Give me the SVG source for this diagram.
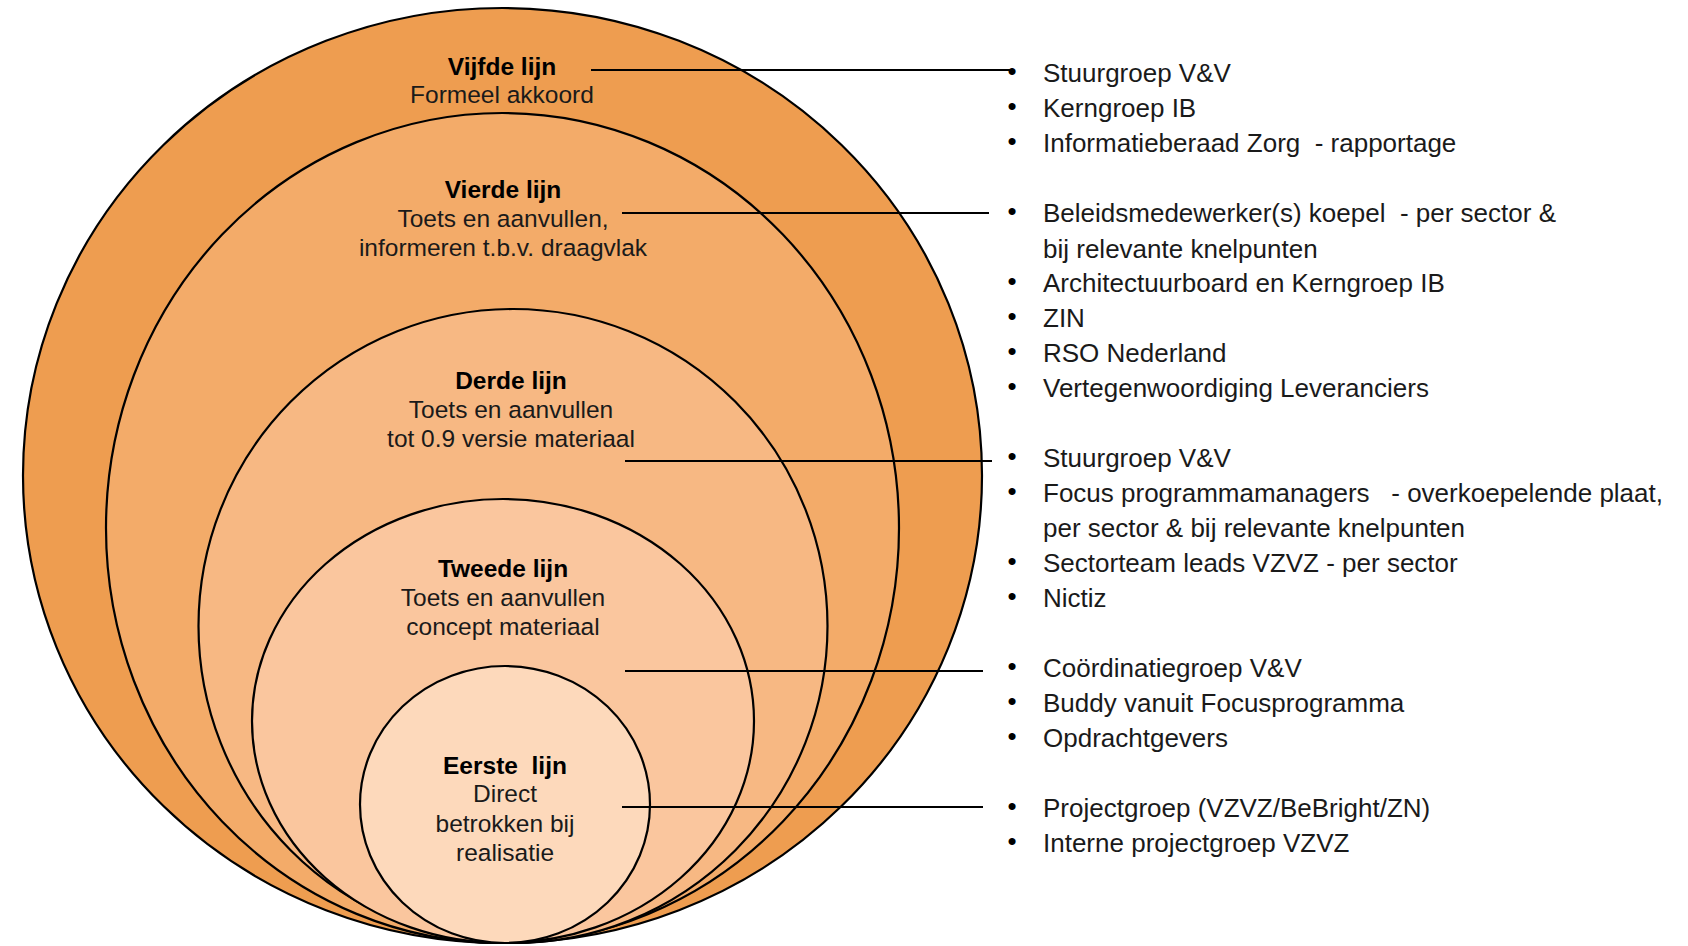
<svg xmlns="http://www.w3.org/2000/svg" width="1688" height="946" viewBox="0 0 1688 946">
<style>
.ring{stroke:#000;stroke-width:2.2}
.t{font-family:"Liberation Sans",Arial,sans-serif;font-size:24.5px;fill:#1a1a1a;text-anchor:middle}
.b{font-weight:bold;fill:#000}
.r{font-family:"Liberation Sans",Arial,sans-serif;font-size:26px;fill:#1a1a1a}
.bul{font-family:"Liberation Sans",Arial,sans-serif;font-size:26px;fill:#000;text-anchor:middle}
.con{stroke:#000;stroke-width:2.2;fill:none}
</style>
<rect width="1688" height="946" fill="#fff"/>
<g id="vijfde-lijn">
<ellipse class="ring" cx="502.5" cy="475.5" rx="479.5" ry="467.5" fill="#EE9D50"/>
<text class="t b" x="502" y="75">Vijfde lijn</text>
<text class="t" x="502" y="103">Formeel akkoord</text>
</g>
<g id="vierde-lijn">
<ellipse class="ring" cx="502.5" cy="528" rx="396.5" ry="415" fill="#F3AB69"/>
<text class="t b" x="503" y="198">Vierde lijn</text>
<text class="t" x="503" y="227">Toets en aanvullen,</text>
<text class="t" x="503" y="256">informeren t.b.v. draagvlak</text>
</g>
<g id="derde-lijn">
<ellipse class="ring" cx="513" cy="626" rx="314.5" ry="317" fill="#F7B883"/>
<text class="t b" x="511" y="389">Derde lijn</text>
<text class="t" x="511" y="418">Toets en aanvullen</text>
<text class="t" x="511" y="447">tot 0.9 versie materiaal</text>
</g>
<g id="tweede-lijn">
<ellipse class="ring" cx="503" cy="721" rx="251" ry="222" fill="#FAC69E"/>
<text class="t b" x="503" y="577">Tweede lijn</text>
<text class="t" x="503" y="606">Toets en aanvullen</text>
<text class="t" x="503" y="635">concept materiaal</text>
</g>
<g id="eerste-lijn">
<ellipse class="ring" cx="505" cy="804.5" rx="145" ry="138.5" fill="#FDD9BB"/>
<text class="t b" x="505" y="774" xml:space="preserve">Eerste  lijn</text>
<text class="t" x="505" y="802">Direct</text>
<text class="t" x="505" y="832">betrokken bij</text>
<text class="t" x="505" y="861">realisatie</text>
</g>
<g id="connectors">
<line class="con" x1="591" y1="70" x2="1012" y2="70"/>
<line class="con" x1="622" y1="213" x2="989" y2="213"/>
<line class="con" x1="625" y1="461" x2="992" y2="461"/>
<line class="con" x1="625" y1="671" x2="983" y2="671"/>
<line class="con" x1="622" y1="807" x2="983" y2="807"/>
</g>
<g id="list-vijfde">
<text class="bul" x="1012" y="80">•</text><text class="r" x="1043" y="82">Stuurgroep V&amp;V</text>
<text class="bul" x="1012" y="115">•</text><text class="r" x="1043" y="117">Kerngroep IB</text>
<text class="bul" x="1012" y="150">•</text><text class="r" x="1043" y="152" xml:space="preserve">Informatieberaad Zorg  - rapportage</text>
</g>
<g id="list-vierde">
<text class="bul" x="1012" y="220">•</text><text class="r" x="1043" y="222" xml:space="preserve">Beleidsmedewerker(s) koepel  - per sector &amp;</text>
<text class="r" x="1043" y="258">bij relevante knelpunten</text>
<text class="bul" x="1012" y="290">•</text><text class="r" x="1043" y="292">Architectuurboard en Kerngroep IB</text>
<text class="bul" x="1012" y="325">•</text><text class="r" x="1043" y="327">ZIN</text>
<text class="bul" x="1012" y="360">•</text><text class="r" x="1043" y="362">RSO Nederland</text>
<text class="bul" x="1012" y="395">•</text><text class="r" x="1043" y="397">Vertegenwoordiging Leveranciers</text>
</g>
<g id="list-derde">
<text class="bul" x="1012" y="465">•</text><text class="r" x="1043" y="467">Stuurgroep V&amp;V</text>
<text class="bul" x="1012" y="500">•</text><text class="r" x="1043" y="502" xml:space="preserve">Focus programmamanagers   - overkoepelende plaat,</text>
<text class="r" x="1043" y="537">per sector &amp; bij relevante knelpunten</text>
<text class="bul" x="1012" y="570">•</text><text class="r" x="1043" y="572">Sectorteam leads VZVZ - per sector</text>
<text class="bul" x="1012" y="605">•</text><text class="r" x="1043" y="607">Nictiz</text>
</g>
<g id="list-tweede">
<text class="bul" x="1012" y="675">•</text><text class="r" x="1043" y="677">Coördinatiegroep V&amp;V</text>
<text class="bul" x="1012" y="710">•</text><text class="r" x="1043" y="712">Buddy vanuit Focusprogramma</text>
<text class="bul" x="1012" y="745">•</text><text class="r" x="1043" y="747">Opdrachtgevers</text>
</g>
<g id="list-eerste">
<text class="bul" x="1012" y="815">•</text><text class="r" x="1043" y="817">Projectgroep (VZVZ/BeBright/ZN)</text>
<text class="bul" x="1012" y="850">•</text><text class="r" x="1043" y="852">Interne projectgroep VZVZ</text>
</g>
</svg>
